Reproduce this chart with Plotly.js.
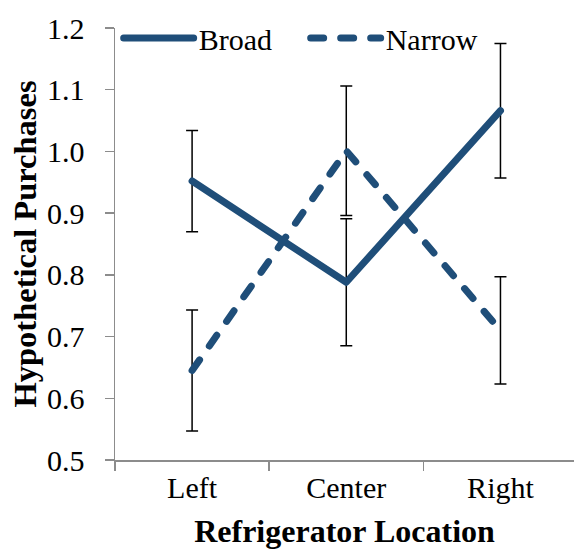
<!DOCTYPE html>
<html>
<head>
<meta charset="utf-8">
<script src="https://cdn.plot.ly/plotly-3.0.1.min.js"></script>
<style>
  html, body { margin: 0; padding: 0; background: #fff; }
  #chart { width: 574px; height: 550px; }
  path.js-line { stroke-linecap: round !important; stroke-linejoin: round !important; }
</style>
</head>
<body>
<div id="chart"></div>
<script>
// Data
const categories = ["Left", "Center", "Right"];
const broadValues = [0.952, 0.788, 1.066];
const broadErrors = [0.082, 0.103, 0.109];
const narrowValues = [0.645, 1.001, 0.710];
const narrowErrors = [0.098, 0.105, 0.087];
const seriesNames = ["Broad", "Narrow"];

const lineColor = "#1F4E79";
const axisColor = "#8C8C8C";
const fontFamily = "Liberation Serif";

const traces = [
  {
    type: "scatter", mode: "lines", name: seriesNames[0],
    x: categories, y: broadValues,
    line: { color: lineColor, width: 7 },
    error_y: { type: "data", array: broadErrors, visible: true, color: "#000", thickness: 1.5, width: 6 }
  },
  {
    type: "scatter", mode: "lines", name: seriesNames[1],
    x: categories, y: narrowValues,
    line: { color: lineColor, width: 7, dash: "13px,17px" },
    error_y: { type: "data", array: narrowErrors, visible: true, color: "#000", thickness: 1.5, width: 6 }
  }
];

const layout = {
  width: 574, height: 550,
  margin: { l: 115, r: 0, t: 28, b: 90 },
  paper_bgcolor: "#fff", plot_bgcolor: "#fff",
  font: { family: fontFamily, size: 30, color: "#000" },
  showlegend: true,
  legend: {
    orientation: "h", x: 0.008, y: 0.977, xanchor: "left", yanchor: "middle",
    bgcolor: "rgba(0,0,0,0)", font: { family: fontFamily, size: 30, color: "#000" },
    itemwidth: 70, tracegroupgap: 0, entrywidth: 102, entrywidthmode: "pixels"
  },
  xaxis: {
    type: "category", range: [-0.5, 2.477],
    showline: true, linecolor: axisColor, linewidth: 1.5,
    ticks: "outside", tickson: "boundaries", ticklen: 9, tickcolor: axisColor, tickwidth: 1.5,
    showgrid: false, zeroline: false,
    tickfont: { family: fontFamily, size: 30, color: "#000" },
    title: { text: "<b>Refrigerator Location</b>", font: { family: fontFamily, size: 32, color: "#000" }, standoff: 17 }
  },
  yaxis: {
    range: [0.5, 1.2], dtick: 0.1, tick0: 0.5, tickformat: ".1f",
    showline: true, linecolor: axisColor, linewidth: 1.5,
    ticks: "outside", ticklen: 9, tickcolor: axisColor, tickwidth: 1.5,
    showgrid: false, zeroline: false,
    tickfont: { family: fontFamily, size: 30, color: "#000" },
    ticklabelstandoff: 14,
    title: { text: "<b>Hypothetical Purchases</b>", font: { family: fontFamily, size: 32.5, color: "#000" }, standoff: 0 }
  }
};

Plotly.newPlot("chart", traces, layout, { displayModeBar: false, staticPlot: true });
</script>
</body>
</html>
